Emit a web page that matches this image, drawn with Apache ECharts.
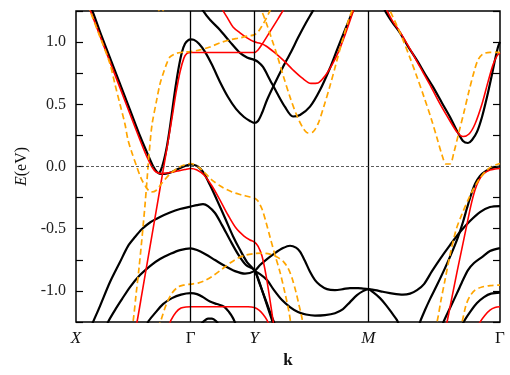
<!DOCTYPE html>
<html><head><meta charset="utf-8">
<script src="https://cdn.jsdelivr.net/npm/echarts@6/dist/echarts.min.js"></script>
<style>html,body{margin:0;padding:0;background:#fff}#c{width:510px;height:375px}</style>
</head><body><div id="c"></div>
<script>
// k-path high-symmetry positions and labels
const kPoints = [0, 114.7, 178.3, 292.3, 424];
const kLabels = ['X', 'Γ', 'Y', 'M', 'Γ'];
const eTicks = [-1.0, -0.5, 0.0, 0.5, 1.0];

// ---- black bands ----
const black1 = [[14,1.30],[19,1.195],[24,1.082],[34,0.873],[44,0.664],[54,0.455],[64,0.245],[72,0.093],[77,0.004],[81,-0.044],[85,-0.06],[90,-0.058],[96,-0.045],[102,-0.02],[109,0.004],[114.7,0.016],[121,0.004],[127,-0.044],[134,-0.149],[141,-0.27],[149,-0.414],[157,-0.56],[164,-0.67],[171,-0.768],[178.3,-0.833],[182,-0.897],[187,-1.018],[192,-1.138],[196,-1.235],[198,-1.283]];
const black2 = [[83,-0.06],[85,-0.028],[88,0.052],[91,0.165],[94,0.318],[97,0.495],[100,0.664],[103,0.809],[106,0.921],[109,0.986],[112,1.014],[114.7,1.022],[118,1.018],[123,0.986],[129,0.921],[136,0.817],[144,0.68],[152,0.559],[160,0.463],[168,0.398],[174,0.366],[178.3,0.35],[182,0.366],[186,0.43],[191,0.535],[199,0.672],[207,0.8],[215,0.921],[222,1.034],[230,1.155],[237,1.253],[240,1.3]];
const black3 = [[122,1.323],[127,1.253],[134,1.179],[144,1.098],[154,1.002],[164,0.913],[171,0.877],[178.3,0.857],[182,0.841],[187,0.8],[194,0.696],[201,0.591],[209,0.479],[217,0.402],[224,0.414],[234,0.481],[244,0.615],[254,0.792],[261,0.937],[269,1.098],[277,1.253],[280,1.315]];
const blackA = [[15,-1.29],[17,-1.251],[24,-1.122],[34,-0.929],[44,-0.768],[52,-0.64],[59,-0.567],[66,-0.503],[74,-0.45],[84,-0.406],[94,-0.37],[104,-0.342],[114.7,-0.322],[121,-0.31],[127,-0.302],[132,-0.318],[139,-0.374],[146,-0.471],[154,-0.591],[162,-0.704],[170,-0.792],[178.3,-0.833],[183,-0.929],[189,-1.058],[194,-1.17],[198,-1.251],[199.5,-1.29]];
const blackB = [[29,-1.315],[32,-1.251],[39,-1.154],[46,-1.066],[54,-0.969],[64,-0.873],[74,-0.8],[84,-0.744],[94,-0.704],[104,-0.672],[114.7,-0.658],[121,-0.672],[129,-0.704],[139,-0.752],[149,-0.8],[159,-0.841],[169,-0.861],[178.3,-0.841],[184,-0.792],[191,-0.744],[199,-0.696],[207,-0.656],[214,-0.637],[220,-0.652],[224,-0.685],[229,-0.76],[234,-0.846],[239,-0.913],[244,-0.953],[251,-0.986],[259,-0.994],[267,-0.986],[274,-0.977],[282,-0.977],[287,-0.981],[292.3,-0.986],[299,-0.994],[307,-1.007],[317,-1.022],[327,-1.03],[334,-1.022],[341,-0.994],[348,-0.945],[356,-0.841],[364,-0.744],[374,-0.632],[384,-0.527],[394,-0.438],[404,-0.366],[414,-0.326],[424,-0.318]];
const blackYM = [[178.3,-0.841],[184,-0.865],[191,-0.913],[198,-0.994],[206,-1.074],[214,-1.13],[222,-1.17],[230,-1.19],[239,-1.199],[249,-1.195],[259,-1.179],[267,-1.146],[274,-1.09],[281,-1.034],[287,-1.002],[292.3,-0.986],[297,-1.01],[304,-1.058],[310,-1.114],[316,-1.179],[321,-1.235],[323,-1.275]];
const blackC = [[70,-1.315],[72,-1.251],[79,-1.179],[87,-1.106],[96,-1.058],[105,-1.03],[114.7,-1.018],[121,-1.026],[127,-1.05],[134,-1.086],[141,-1.106],[148,-1.126],[153,-1.17],[157,-1.219],[160,-1.275]];
const blackBump = [[124,-1.275],[128,-1.243],[132,-1.223],[136,-1.223],[140,-1.243],[143,-1.275]];
const blackM1 = [[342,-1.315],[344,-1.251],[349,-1.154],[354,-1.066],[361,-0.953],[369,-0.817],[376,-0.688],[382,-0.567],[387,-0.446],[391,-0.334],[395,-0.229],[399,-0.141],[404,-0.076],[410,-0.036],[416,-0.012],[424,0.0]];
const blackM2 = [[365,-1.315],[367,-1.259],[374,-1.138],[381,-1.018],[387,-0.913],[392,-0.833],[398,-0.776],[406,-0.728],[414,-0.68],[424,-0.656]];
const blackM3 = [[385,-1.315],[387,-1.259],[394,-1.17],[401,-1.098],[408,-1.05],[415,-1.022],[424,-1.014]];
const blackMtop = [[306,1.315],[309,1.253],[316,1.163],[324,1.074],[332,0.965],[341,0.853],[349,0.744],[357,0.64],[366,0.511],[374,0.398],[381,0.286],[387,0.205],[392,0.189],[396,0.213],[401,0.278],[406,0.398],[411,0.559],[415,0.704],[419,0.857],[422,0.961],[424,1.002]];

// ---- red bands ----
const red1 = [[12,1.3],[16,1.219],[24,1.05],[34,0.841],[44,0.632],[54,0.422],[64,0.213],[71,0.076],[76,-0.004],[80,-0.044],[86,-0.056],[94,-0.048],[102,-0.036],[109,-0.024],[114.7,-0.016],[121,-0.028],[128,-0.068],[136,-0.157],[144,-0.27],[152,-0.39],[160,-0.495],[168,-0.559],[174,-0.591],[178.3,-0.607],[182,-0.64],[186,-0.72],[190,-0.873],[194,-1.074],[197,-1.235],[198,-1.3]];
const red2 = [[59,-1.315],[61,-1.251],[66,-1.018],[71,-0.784],[76,-0.551],[81,-0.318],[86,-0.084],[91,0.149],[96,0.39],[100,0.591],[104,0.76],[108,0.873],[111,0.909],[114.7,0.917],[144,0.917],[172,0.917],[178.3,0.917],[182,0.937],[187,0.994],[192,1.058],[197,1.122],[202,1.187],[207,1.253],[210,1.29]];
const red3 = [[144,1.3],[147,1.253],[152,1.187],[157,1.122],[164,1.074],[171,1.034],[178.3,1.002],[184,0.99],[190,0.969],[199,0.913],[208,0.849],[217,0.776],[226,0.712],[235,0.668],[242,0.672],[249,0.728],[256,0.817],[262,0.913],[269,1.058],[276,1.219],[278,1.275]];
const red4 = [[308,1.315],[311,1.253],[317,1.163],[324,1.082],[334,0.945],[344,0.8],[354,0.656],[364,0.503],[374,0.366],[381,0.278],[387,0.241],[393,0.261],[399,0.342],[406,0.503],[412,0.68],[417,0.817],[421,0.889],[424,0.913]];
const red5 = [[92,-1.3],[95,-1.235],[100,-1.171],[105,-1.138],[110,-1.129],[114.7,-1.128],[144,-1.128],[172,-1.128],[178.3,-1.134],[183,-1.154],[187,-1.187],[191,-1.235],[194,-1.29]];
const red6 = [[369,-1.315],[371,-1.251],[376,-1.05],[381,-0.849],[386,-0.656],[391,-0.463],[395,-0.31],[399,-0.189],[403,-0.109],[408,-0.056],[414,-0.028],[419,-0.02],[424,-0.016]];
const red7 = [[401,-1.3],[404,-1.251],[409,-1.195],[414,-1.154],[419,-1.134],[424,-1.128]];

// ---- orange dashed bands ----
const orange1 = [[12,1.3],[14,1.253],[24,1.042],[34,0.825],[39,0.66],[44,0.5],[49,0.34],[52,0.213],[56,0.109],[60.7,0.0],[65,-0.093],[70,-0.165],[75,-0.205],[80,-0.193],[86,-0.133],[94,-0.06],[102,-0.012],[108,0.012],[114.7,0.024],[121,0.004],[128,-0.044],[136,-0.109],[146,-0.165],[156,-0.205],[166,-0.229],[174,-0.245],[178.3,-0.253],[182,-0.278],[186,-0.342],[190,-0.447],[194,-0.567],[199,-0.712],[204,-0.849],[209,-1.018],[213,-1.17],[215,-1.275]];
const orange2 = [[55,-1.315],[57,-1.251],[60,-1.034],[63,-0.817],[66,-0.575],[69,-0.31],[71,-0.109],[73,0.093],[76,0.334],[80.7,0.535],[84,0.664],[87.3,0.75],[91,0.833],[94,0.881],[100.7,0.911],[107,0.919],[114.7,0.924],[124,0.937],[134,0.961],[144,0.994],[154,1.018],[164,1.034],[172,1.05],[178.3,1.058],[182,1.082],[186,1.13],[190,1.187],[194,1.253],[196,1.29]];
const orange3 = [[182,1.3],[186,1.243],[191,1.138],[196,1.018],[201,0.897],[207,0.736],[214,0.559],[221,0.406],[227,0.31],[232,0.27],[237,0.278],[242,0.342],[248,0.487],[254,0.648],[260,0.825],[266,1.002],[272,1.163],[276,1.253],[278,1.3]];
const orange4 = [[311,1.315],[314,1.253],[321,1.13],[327,1.018],[334,0.873],[341,0.72],[348,0.559],[355,0.39],[361,0.229],[366,0.093],[370,0.02],[374,0.02],[378,0.117],[383,0.278],[388,0.438],[393,0.607],[398,0.76],[402,0.857],[407,0.905],[414,0.917],[424,0.917]];
const orange5 = [[82,-1.3],[85,-1.235],[90,-1.114],[96,-1.018],[102,-0.969],[108,-0.953],[114.7,-0.945],[122,-0.937],[130,-0.913],[138,-0.873],[146,-0.825],[154,-0.776],[162,-0.736],[170,-0.712],[178.3,-0.7],[186,-0.696],[194,-0.704],[201,-0.728],[207,-0.76],[212,-0.817],[216,-0.897],[220,-1.01],[223,-1.114],[226,-1.219],[227,-1.283]];
const orange6 = [[358,-1.315],[361,-1.251],[365,-1.074],[369,-0.913],[374,-0.712],[380,-0.511],[386,-0.382],[392,-0.27],[398,-0.173],[404,-0.093],[411,-0.028],[417,0.004],[424,0.024]];
const orange7 = [[383,-1.315],[386,-1.251],[390,-1.114],[394,-1.042],[399,-0.994],[406,-0.969],[414,-0.957],[424,-0.953]];
const orange8 = [[80,1.29],[83,1.255],[85,1.243],[87,1.255],[90,1.29]];

const blackBands = [black1, black2, black3, blackA, blackB, blackYM, blackC, blackBump, blackM1, blackM2, blackM3, blackMtop];
const redBands = [red1, red2, red3, red4, red5, red6, red7];
const orangeBands = [orange1, orange2, orange3, orange4, orange5, orange6, orange7, orange8];

const SERIF = "'Liberation Serif', 'DejaVu Serif', serif";
const chart = echarts.init(document.getElementById('c'), null, {renderer: 'canvas'});

function band(data, color, width, dashed, z) {
  return {
    type: 'line', data: data, showSymbol: false, smooth: 0.3, clip: true,
    silent: true, animation: false, z: z,
    lineStyle: {color: color, width: width, type: dashed ? [6, 3.5] : 'solid', cap: 'butt', join: 'round'}
  };
}

const series = [];
series.push({
  type: 'line', data: [], silent: true, animation: false, z: 1,
  markLine: {
    silent: true, symbol: ['none', 'none'], animation: false,
    label: {show: false},
    lineStyle: {color: '#000', width: 1.3, type: 'solid'},
    data: [
      {xAxis: kPoints[1]}, {xAxis: kPoints[2]}, {xAxis: kPoints[3]},
      {yAxis: 0, lineStyle: {color: '#333', width: 0.8, type: [3, 2]}}
    ]
  }
});
blackBands.forEach(b => series.push(band(b, '#000000', 2.2, false, 2)));
redBands.forEach(b => series.push(band(b, '#ff0000', 1.6, false, 3)));
orangeBands.forEach(b => series.push(band(b, '#ffa500', 1.7, true, 4)));

const richLab = {
  i: {fontFamily: SERIF, fontStyle: 'italic', fontSize: 17, color: '#111'},
  n: {fontFamily: SERIF, fontSize: 17, color: '#111'}
};

chart.setOption({
  animation: false,
  backgroundColor: '#fff',
  grid: {left: 76, right: 10, top: 11, bottom: 53, show: true, borderColor: '#000', borderWidth: 1.5, backgroundColor: 'transparent'},
  xAxis: {
    type: 'value', min: 0, max: 424,
    name: 'k', nameLocation: 'middle', nameGap: 30,
    nameTextStyle: {fontFamily: SERIF, fontWeight: 'bold', fontSize: 17, color: '#111'},
    axisLine: {show: false}, splitLine: {show: false},
    axisTick: {show: false},
    axisLabel: {
      customValues: kPoints, margin: 8, rich: richLab,
      formatter: function (v) {
        let idx = 0, best = 1e9;
        kPoints.forEach((p, i) => { if (Math.abs(p - v) < best) { best = Math.abs(p - v); idx = i; } });
        const t = kLabels[idx];
        return t === 'Γ' ? '{n|' + t + '}' : '{i|' + t + '}';
      }
    }
  },
  yAxis: [{
    type: 'value', min: -1.25, max: 1.25, interval: 0.25, position: 'left',
    name: '{i|E}(eV)', nameLocation: 'middle', nameRotate: 90, nameGap: 46,
    nameTextStyle: {fontFamily: SERIF, fontSize: 16, color: '#111',
      rich: {i: {fontFamily: SERIF, fontStyle: 'italic', fontSize: 16, color: '#111'}}},
    axisLine: {show: false}, splitLine: {show: false},
    axisTick: {show: true, inside: true, length: 7, lineStyle: {color: '#000', width: 1.2}},
    axisLabel: {
      fontFamily: SERIF, fontSize: 16, color: '#222', margin: 10,
      formatter: function (v) {
        for (const t of eTicks) { if (Math.abs(t - v) < 1e-6) return t.toFixed(1); }
        return '';
      }
    }
  }, {
    type: 'value', min: -1.25, max: 1.25, interval: 0.25, position: 'right',
    axisLine: {show: false}, splitLine: {show: false},
    axisTick: {show: true, inside: true, length: 7, lineStyle: {color: '#000', width: 1.2}},
    axisLabel: {show: false}
  }],
  series: series
});
</script>
</body></html>
